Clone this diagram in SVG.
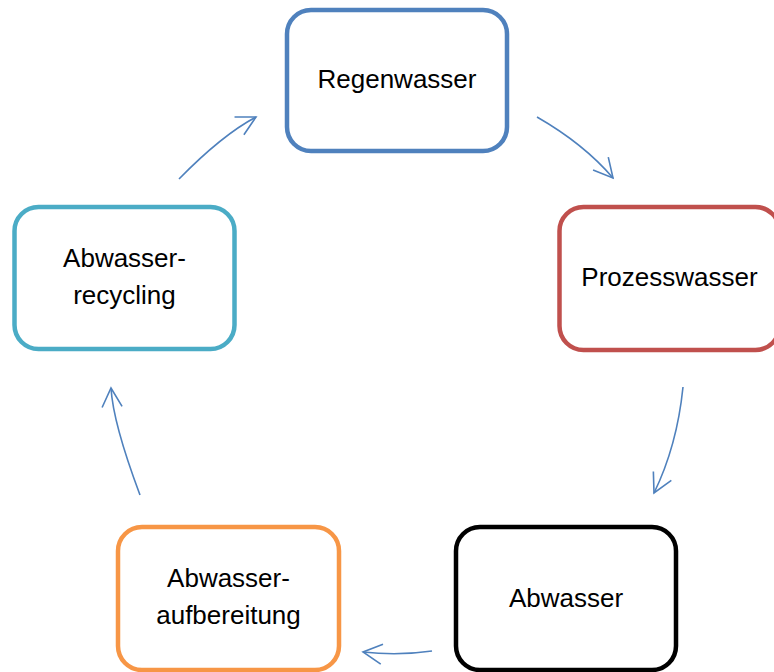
<svg xmlns="http://www.w3.org/2000/svg" width="774" height="672" viewBox="0 0 774 672">
<style>
.box{fill:#fff;stroke-width:4.5}
.lbl{font-family:"Liberation Sans",Arial,sans-serif;font-size:26px;fill:#000;text-anchor:middle}
.arr{fill:none;stroke:#4F81BD;stroke-width:1.6;marker-end:url(#head)}
</style>
<defs>
<marker id="head" markerUnits="userSpaceOnUse" markerWidth="30" markerHeight="30" viewBox="-25 -15 30 30" refX="0" refY="0" orient="auto">
<path d="M-19,-10 L0,0 L-19,10" fill="none" stroke="#4F81BD" stroke-width="1.6"/>
</marker>
</defs>
<rect width="774" height="672" fill="#fff"/>
<g id="connectors">
<path class="arr" d="M537,117 Q584,144 613,178"/>
<path class="arr" d="M683,387 Q677,446 654,493"/>
<path class="arr" d="M432,651 Q398,656 363,652"/>
<path class="arr" d="M140,495 Q113,423 111,388"/>
<path class="arr" d="M179,179 Q222,135 256,117"/>
</g>
<g id="regenwasser">
<rect class="box" x="287" y="10" width="220" height="141" rx="24" stroke="#4F81BD"/>
<text class="lbl" x="397" y="88">Regenwasser</text>
</g>
<g id="prozesswasser">
<rect class="box" x="559.5" y="207" width="220" height="143" rx="24" stroke="#C0504D"/>
<text class="lbl" x="669.5" y="286">Prozesswasser</text>
</g>
<g id="abwasser">
<rect class="box" x="456" y="527" width="220" height="143" rx="24" stroke="#000"/>
<text class="lbl" x="566" y="607">Abwasser</text>
</g>
<g id="abwasseraufbereitung">
<rect class="box" x="118" y="527" width="221" height="143" rx="24" stroke="#F79646"/>
<text class="lbl" x="228.5" y="587">Abwasser-</text>
<text class="lbl" x="228.5" y="624">aufbereitung</text>
</g>
<g id="abwasserrecycling">
<rect class="box" x="14.5" y="207" width="220" height="142" rx="24" stroke="#4BACC6"/>
<text class="lbl" x="124.5" y="267">Abwasser-</text>
<text class="lbl" x="124.5" y="304">recycling</text>
</g>
</svg>
